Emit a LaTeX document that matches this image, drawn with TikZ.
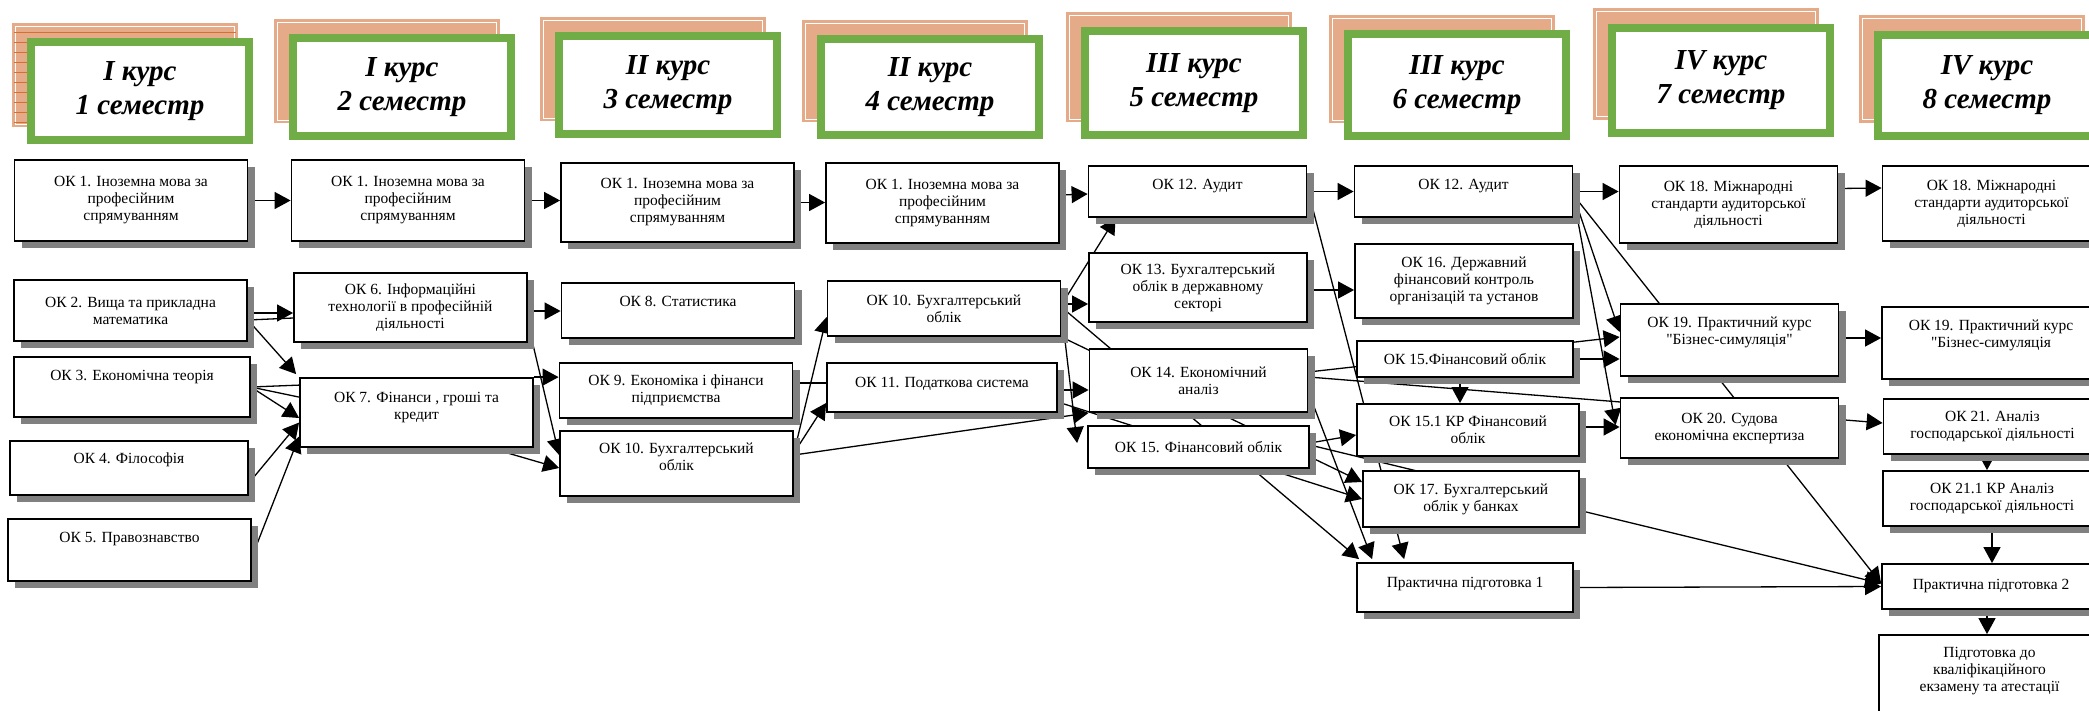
\documentclass[tikz,border=0pt]{standalone}
\usepackage{fontspec}
\setmainfont{Liberation Serif}[Ligatures=TeXOff]
\usetikzlibrary{arrows.meta,shadows,backgrounds}

\definecolor{hgreen}{RGB}{112,173,71}
\definecolor{backorange}{RGB}{229,171,137}
\definecolor{stripeorange}{RGB}{214,112,48}
\definecolor{shadowgray}{RGB}{128,128,128}

\tikzset{
  okbox/.style={draw, line width=1.8pt, fill=white, align=center, inner sep=1pt,
    minimum width=233pt, font=\fontsize{15.5}{17}\selectfont,
    drop shadow={shadow xshift=7pt, shadow yshift=-7pt, fill=shadowgray, opacity=1}},
  narrow/.style={minimum width=218pt},
  hfront/.style={draw=hgreen, line width=8pt, fill=white, align=center,
    minimum width=218pt, font=\fontsize{29}{34}\selectfont\bfseries\itshape},
  hback/.style={fill=backorange, draw=backorange, line width=3pt,
    double=white, double distance=0.8pt, minimum width=219pt},
  stripe/.style={draw=stripeorange, line width=0.9pt},
  arr/.style={line width=1.3pt, -{Triangle[length=16pt, width=17pt]}},
  link/.style={line width=1.3pt},
}

\begin{document}
\begin{tikzpicture}[x=1pt, y=-1pt]

\useasboundingbox (0,0) rectangle (2089,710);
\clip (0,0) rectangle (2089,710);

% semester headers
\foreach \n/\xx/\yy/\hh in {1/140/91/98, 2/402/87/98, 3/668/85/98, 4/930/87/96,
	5/1194/83/104, 6/1457/85/102, 7/1721/80/105, 8/1987/85/101}
\node[hback, minimum height=\hh pt] (hb\n) at (\xx-15, \yy-16) {};

\foreach \s in {8,18,...,98}
\draw[stripe] ([yshift=-\s pt]hb1.north west) -- ([yshift=-\s pt]hb1.north east);

\foreach \n/\xx/\yy/\hh/\kurs/\sem in {1/140/91/98/I/1, 2/402/87/98/I/2,
	3/668/85/98/II/3, 4/930/87/96/II/4, 5/1194/83/104/III/5,
	6/1457/85/102/III/6, 7/1721/80/105/IV/7, 8/1987/85/101/IV/8}
\node[hfront, minimum height=\hh pt] (hf\n) at (\xx, \yy) {\kurs{} курс\\\sem{} семестр};

% 1 semester
\node[okbox, minimum height=81pt] (ok1a) at (131, 200.5) {ОК 1. Іноземна мова за\\професійним\\спрямуванням};
\node[okbox, minimum height=61pt] (ok2) at (130.5, 310.5) {ОК 2. Вища та прикладна\\математика};
\node[okbox, minimum width=236pt, minimum height=60pt] (ok3) at (132, 387) {ОК 3. Економічна теорія\\[6pt]~};
\node[okbox, minimum width=238pt, minimum height=54pt] (ok4) at (129, 468) {ОК 4. Філософія\\[2pt]~};
\node[okbox, minimum width=243pt, minimum height=62pt] (ok5) at (129.5, 550) {ОК 5. Правознавство\\[8pt]~};

% 2 semester
\node[okbox, minimum height=81pt] (ok1b) at (408, 200.5) {ОК 1. Іноземна мова за\\професійним\\спрямуванням};
\node[okbox, minimum height=69pt] (ok6) at (410.5, 307.5) {ОК 6. Інформаційні\\технології в професійній\\діяльності};
\node[okbox, minimum height=69pt] (ok7) at (416.5, 412.5) {ОК 7. Фінанси , гроші та\\кредит\\[-4pt]~};

% 3 semester
\node[okbox, minimum height=79pt] (ok1c) at (677.5, 202.5) {ОК 1. Іноземна мова за\\професійним\\спрямуванням};
\node[okbox, minimum height=55pt] (ok8) at (678, 310.5) {ОК 8. Статистика\\[2pt]~};
\node[okbox, minimum height=55pt] (ok9) at (676, 390.5) {ОК 9. Економіка і фінанси\\підприємства};
\node[okbox, minimum height=65pt] (ok10b) at (676.5, 463.5) {ОК 10. Бухгалтерський\\облік\\[-4pt]~};

% 4 semester
\node[okbox, minimum height=80pt] (ok1d) at (942.5, 203) {ОК 1. Іноземна мова за\\професійним\\спрямуванням};
\node[okbox, minimum height=55pt] (ok10a) at (944, 308.5) {ОК 10. Бухгалтерський\\облік};
\node[okbox, minimum width=230pt, minimum height=49pt] (ok11) at (942, 387.5) {ОК 11. Податкова система\\[-6pt]~};

% 5 semester
\node[okbox, narrow, minimum height=51pt] (ok12a) at (1197.5, 191.5) {ОК 12. Аудит\\[-2pt]~};
\node[okbox, narrow, minimum height=69pt] (ok13) at (1198, 287.5) {ОК 13. Бухгалтерський\\облік в державному\\секторі};
\node[okbox, narrow, minimum height=63pt] (ok14) at (1198.5, 380.5) {ОК 14. Економічний\\аналіз};
\node[okbox, minimum width=221pt, minimum height=42pt] (ok15a) at (1198.5, 447) {ОК 15. Фінансовий облік};

% 6 semester
\node[okbox, narrow, minimum height=51pt] (ok12b) at (1463.5, 191.5) {ОК 12. Аудит\\[-2pt]~};
\node[okbox, narrow, minimum height=74pt] (ok16) at (1464, 281) {ОК 16. Державний\\фінансовий контроль\\організацій та установ};
\node[okbox, minimum width=216pt, minimum height=36pt] (ok15b) at (1465, 359) {ОК 15.Фінансовий облік};
\node[okbox, minimum width=222pt, minimum height=52pt] (ok151) at (1468, 430) {ОК 15.1 КР Фінансовий\\облік};
\node[okbox, minimum width=216pt, minimum height=56pt] (ok17) at (1471, 499) {ОК 17. Бухгалтерський\\облік у банках};
\node[okbox, minimum width=216pt, minimum height=49pt] (pp1) at (1465, 587.5) {Практична підготовка 1\\[-6pt]~};

% 7 semester
\node[okbox, narrow, minimum height=77pt] (ok18a) at (1728.5, 204.5) {ОК 18. Міжнародні\\стандарти аудиторської\\діяльності};
\node[okbox, narrow, minimum height=72pt] (ok19a) at (1729.5, 340) {ОК 19. Практичний курс\\"Бізнес-симуляція"\\[2pt]~};
\node[okbox, narrow, minimum height=60pt] (ok20) at (1729.5, 428) {ОК 20. Судова\\економічна експертиза};

% 8 semester
\node[okbox, narrow, minimum height=75pt] (ok18b) at (1991.5, 203.5) {ОК 18. Міжнародні\\стандарти аудиторської\\діяльності};
\node[okbox, narrow, minimum height=72pt] (ok19b) at (1991, 343) {ОК 19. Практичний курс\\"Бізнес-симуляція\\[2pt]~};
\node[okbox, narrow, minimum height=55pt] (ok21) at (1992.5, 426.5) {ОК 21. Аналіз\\господарської діяльності};
\node[okbox, narrow, minimum height=55pt] (ok211) at (1992, 498.5) {ОК 21.1 КР Аналіз\\господарської діяльності};
\node[okbox, narrow, minimum height=45pt] (pp2) at (1991, 586.5) {Практична підготовка 2};
\node[okbox, minimum width=221pt, minimum height=110pt] (pidg) at (1989.5, 690) {Підготовка до\\кваліфікаційного\\екзамену та атестації\\[24pt]~};

\begin{scope}[on background layer]
% 1 -> 2
\draw[arr] (ok1a) -- (ok1b);
\draw[arr] ([yshift=-2.5pt]ok2.east) -- ([yshift=-5.5pt]ok6.west);
\draw[link] ([yshift=-9.5pt]ok2.east) -- ([yshift=-10.5pt]ok6.west);
\draw[arr] ([yshift=-9.5pt]ok2.east) -- ([xshift=-3pt, yshift=3pt]ok7.north west);
\draw[link] (ok3.east) -- ([yshift=-8pt]ok7.north west);
\draw[link] (ok3.east) -- ([yshift=-20pt]ok7.north west);
\draw[arr] (ok3.east) -- ([yshift=-5.5pt]ok7.west);
\draw[arr] ([yshift=-15pt]ok4.east) -- ([yshift=-10pt]ok7.west);
\draw[arr] ([yshift=-7pt]ok5.east) -- ([yshift=-24pt]ok7.west);

% 2 -> 3
\draw[arr] (ok1b.east) -- (ok1b.east -| ok1c.west);
\draw[arr] ([yshift=-3.5pt]ok6.east) -- ([yshift=-0.5pt]ok8.west);
\draw[arr] (ok7.north east) -- (ok7.north east -| ok9.west);
\draw[arr] ([yshift=-15.5pt]ok6.east) -- ([yshift=8.5pt]ok10b.west);
\draw[arr] ([xshift=73.5pt]ok7.south) -- ([yshift=-4.5pt]ok10b.west);

% 3 -> 4
\draw[arr] (ok1c.east) -- (ok1c.east -| ok1d.west);
\draw[link] ([yshift=7.5pt]ok9.east) -- ([yshift=4.5pt]ok11.west);
\draw[arr] ([yshift=10.5pt]ok10b.east) -- ([yshift=-8.5pt]ok10a.west);
\draw[arr] ([yshift=10.5pt]ok10b.east) -- ([yshift=-15.5pt]ok11.west);
\draw[arr] ([yshift=8.5pt]ok10b.east) -- (ok14.south west);

% 4 -> 5
\draw[arr] ([yshift=8pt]ok1d.east) -- ([yshift=-2.5pt]ok12a.west);
\draw[arr] ([yshift=3.5pt]ok10a.east) -- ([xshift=28pt]ok12a.south west);
\draw[arr] ([yshift=4.5pt]ok10a.east) -- ([yshift=-16.5pt]ok13.west);
\draw[arr] ([yshift=1.5pt]ok10a.east) -- ([xshift=3pt, yshift=3pt]pp1.north west);
\draw[arr] (ok10a.south east) -- ([yshift=17pt]ok17.west);
\draw[arr] ([yshift=-1.5pt]ok10a.east) -- ([xshift=-10pt, yshift=4pt]ok15a.west);
\draw[arr] ([yshift=-2.5pt]ok11.east) -- ([yshift=-9.5pt]ok14.west);
\draw[arr] ([yshift=-14.5pt]ok11.east) -- (ok17.west);

% 5 -> 6
\draw[arr] (ok12a) -- (ok12b);
\draw[arr] ([yshift=3.5pt]ok12a.east) -- ([xshift=48pt, yshift=3pt]pp1.north west);
\draw[arr] ([yshift=-2.5pt]ok13.east) -- ([yshift=-9pt]ok16.west);
\draw[arr] ([yshift=8.5pt]ok14.east) -- ([yshift=3pt]ok19a.west);
\draw[arr] ([yshift=3.5pt]ok14.east) -- ([yshift=3.5pt]ok21.west);
\draw[arr] ([yshift=-11.5pt]ok14.east) -- ([xshift=16pt, yshift=3pt]pp1.north west);
\draw[arr] ([yshift=4pt]ok15a.east) -- ([yshift=-5pt]ok151.west);
\draw[arr] ([yshift=2pt]ok15a.east) -- ([yshift=3pt]pp2.west);
\draw[arr] ([xshift=-5pt]ok15b.south) -- ([xshift=-8pt]ok151.north);

% 6 -> 7
\draw[arr] (ok15b.east) -- (ok15b.east -| ok19a.west);
\draw[arr] ([yshift=3pt]ok151.east) -- ([yshift=1pt]ok20.west);
\draw[arr] (ok12b.east) -- (ok12b.east -| ok18a.west);
\draw[arr] ([yshift=-3.5pt]ok12b.east) -- ([yshift=8pt]ok19a.west);
\draw[arr] ([yshift=-5pt]ok12b.east) -- ([xshift=-4pt, yshift=3pt]ok20.west);
\draw[arr] ([yshift=-3.5pt]ok12b.east) -- ([yshift=3pt]pp2.west);
\draw[arr] (pp1.east) -- (pp2.west);

% 7 -> 8
\draw[arr] ([yshift=16pt]ok18a.east) -- ([yshift=15.5pt]ok18b.west);
\draw[arr] ([yshift=2pt]ok19a.east) -- ([yshift=5pt]ok19b.west);
\draw[arr] ([xshift=-5.5pt]ok21.south) -- ([xshift=-5pt]ok211.north);
\draw[arr] (ok211.south) -- (ok211.south |- pp2.north);
\draw[arr] ([xshift=-4pt]pp2.south) -- ([xshift=-2.5pt]pidg.north);
\end{scope}

\end{tikzpicture}
\end{document}
